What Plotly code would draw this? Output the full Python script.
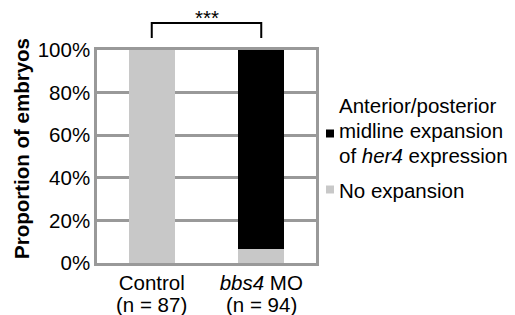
import plotly.graph_objects as go

# ---- data ----
categories = ["Control", "<i>bbs4</i> MO"]
n_labels = ["(n = 87)", "(n = 94)"]
no_expansion = [100.0, 6.4]
expansion = [0.0, 93.6]
y_ticks = [0, 20, 40, 60, 80, 100]
y_tick_labels = [f"{v}%" for v in y_ticks]
legend_expansion_lines = ["Anterior/posterior", "midline expansion", "of <i>her4</i> expression"]
legend_none = "No expansion"
significance = "***"
y_title = "<b>Proportion of embryos</b>"

# ---- style ----
FONT = "Liberation Sans, Arial, Helvetica, sans-serif"
FS = 20.5
GRAY_BAR = "#c8c8c8"
BLACK = "#000000"
LINE = "#999999"
LW = 2.5
W, H = 515, 315
L, R, T, B = 97, 199, 50, 52
PW = W - L - R
PH = H - T - B


def px(xp):
    return (xp - L) / PW


def py(yp):
    return (H - B - yp) / PH


x_pos = list(range(len(categories)))

fig = go.Figure()
fig.add_bar(x=x_pos, y=no_expansion, marker_color=GRAY_BAR, marker_line_width=0,
            width=0.42, name=legend_none)
fig.add_bar(x=x_pos, y=expansion, marker_color=BLACK, marker_line_width=0,
            width=0.42, name=" ".join(legend_expansion_lines))

txt = dict(showarrow=False, borderpad=0, borderwidth=0,
           font=dict(family=FONT, size=FS, color="black"))

annotations = []
# second line of category labels
for xi, lab in zip(x_pos, n_labels):
    annotations.append(dict(x=xi, xref="x", y=py(304.4), yref="paper", text=lab,
                            xanchor="center", yanchor="middle", **txt))
# y title
annotations.append(dict(x=px(21.5), xref="paper", y=py(148.5), yref="paper", text=y_title,
                        textangle=-90, xanchor="center", yanchor="middle", **txt))
# significance stars
annotations.append(dict(x=0.5, xref="x", y=py(17.6), yref="paper", text=significance,
                        xanchor="center", yanchor="middle", **txt))
# legend text
for yc, line in zip([105.5, 130.5, 155.0], legend_expansion_lines):
    annotations.append(dict(x=px(338.5), xref="paper", y=py(yc), yref="paper", text=line,
                            xanchor="left", yanchor="middle", **txt))
annotations.append(dict(x=px(338.5), xref="paper", y=py(190), yref="paper", text=legend_none,
                        xanchor="left", yanchor="middle", **txt))

shapes = [
    # significance bracket
    dict(type="path", xref="x", yref="paper",
         path=f"M 0,{py(38)} L 0,{py(23)} L 1,{py(23)} L 1,{py(38)}",
         line=dict(color=BLACK, width=2)),
    # legend swatches
    dict(type="rect", xref="paper", yref="paper", x0=px(326), x1=px(334),
         y0=py(137.5), y1=py(129.5), fillcolor=BLACK, line_width=0),
    dict(type="rect", xref="paper", yref="paper", x0=px(326), x1=px(334),
         y0=py(193.5), y1=py(185.5), fillcolor=GRAY_BAR, line_width=0),
]

fig.update_layout(
    width=W, height=H,
    margin=dict(l=L, r=R, t=T, b=B, pad=0),
    barmode="stack",
    showlegend=False,
    paper_bgcolor="white",
    plot_bgcolor="white",
    font=dict(family=FONT, size=FS, color="black"),
    annotations=annotations,
    shapes=shapes,
    xaxis=dict(range=[-0.5, 1.5], tickvals=x_pos, ticktext=categories,
               showline=True, mirror=True, linecolor=LINE, linewidth=LW,
               showgrid=False, zeroline=False, ticks="", layer="below traces",
               tickfont=dict(family=FONT, size=FS, color="black"), fixedrange=True),
    yaxis=dict(range=[0, 100], tickvals=y_ticks, ticktext=y_tick_labels,
               showline=True, mirror=True, linecolor=LINE, linewidth=LW,
               showgrid=True, gridcolor=LINE, gridwidth=LW, zeroline=False,
               ticks="", layer="below traces",
               tickfont=dict(family=FONT, size=FS, color="black"), fixedrange=True),
)

fig.write_html("out.html", config={"displayModeBar": False},
               post_script="document.body.style.margin='0';document.body.style.overflow='hidden';")
